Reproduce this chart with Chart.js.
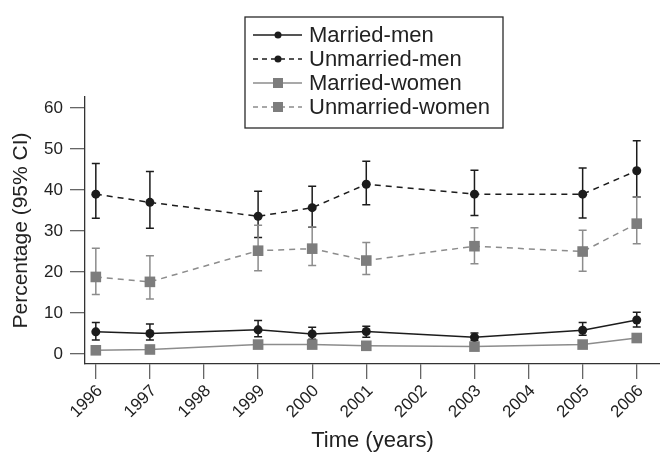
<!DOCTYPE html>
<html>
<head>
<meta charset="utf-8">
<script src="https://cdn.jsdelivr.net/npm/chart.js@4/dist/chart.umd.min.js"></script>
<style>
  html, body { margin: 0; padding: 0; background: #fff; }
  #wrap { width: 660px; height: 454px; }
</style>
</head>
<body>
<div id="wrap"><canvas id="c" width="660" height="454"></canvas></div>
<script>
// Survey years and x-axis tick labels
const years = [1996, 1997, 1999, 2000, 2001, 2003, 2005, 2006];
const yearTicks = [1996, 1997, 1998, 1999, 2000, 2001, 2002, 2003, 2004, 2005, 2006];
const percentTicks = [0, 10, 20, 30, 40, 50, 60];

// Percentages with 95% confidence limits
const marriedMen      = [5.4, 5.0, 5.9, 4.9, 5.5, 4.1, 5.8, 8.3];
const marriedMenLow   = [3.4, 3.4, 4.2, 3.6, 4.1, 3.3, 4.6, 6.6];
const marriedMenHigh  = [7.7, 7.3, 8.2, 6.5, 6.8, 5.1, 7.7, 10.2];

const unmarriedMen     = [39.0, 37.0, 33.6, 35.7, 41.4, 39.0, 39.0, 44.7];
const unmarriedMenLow  = [33.1, 30.7, 28.4, 30.9, 36.4, 33.8, 33.2, 38.3];
const unmarriedMenHigh = [46.5, 44.5, 39.7, 40.9, 47.0, 44.8, 45.4, 52.0];

const marriedWomen = [0.9, 1.1, 2.3, 2.3, 2.0, 1.8, 2.3, 3.9];

const unmarriedWomen     = [18.8, 17.6, 25.2, 25.7, 22.8, 26.3, 25.0, 31.8];
const unmarriedWomenLow  = [14.5, 13.4, 20.3, 21.6, 19.4, 22.0, 20.2, 26.9];
const unmarriedWomenHigh = [25.8, 24.0, 31.4, 31.0, 27.2, 30.8, 30.2, 38.3];

const seriesLabels = ['Married-men', 'Unmarried-men', 'Married-women', 'Unmarried-women'];

const FONT = '"Liberation Sans", Arial, Helvetica, sans-serif';
const BLACK = '#1c1c1c';
const GREY_LINE = '#8c8c8c';
const GREY_FILL = '#7d7d7d';

const toPoints = vals => vals.map((v, i) => ({ x: years[i], y: v }));

// Vertical confidence-interval whiskers with caps, drawn beneath the markers
const errorBars = {
  id: 'errorBars',
  beforeDatasetsDraw(chart) {
    const { ctx, scales: { x, y } } = chart;
    chart.data.datasets.forEach(ds => {
      if (!ds.ciLow) return;
      ctx.save();
      ctx.strokeStyle = ds.ciColor;
      ctx.lineWidth = 1.5;
      ctx.setLineDash([]);
      ds.data.forEach((p, j) => {
        const px = x.getPixelForValue(p.x);
        const lo = y.getPixelForValue(ds.ciLow[j]);
        const hi = y.getPixelForValue(ds.ciHigh[j]);
        ctx.beginPath();
        ctx.moveTo(px, lo); ctx.lineTo(px, hi);
        ctx.moveTo(px - 4, lo); ctx.lineTo(px + 4, lo);
        ctx.moveTo(px - 4, hi); ctx.lineTo(px + 4, hi);
        ctx.stroke();
      });
      ctx.restore();
    });
  }
};

// Boxed legend with line + marker samples
const boxLegend = {
  id: 'boxLegend',
  afterDraw(chart) {
    const { ctx } = chart;
    const bx = 245, by = 17, bw = 258, bh = 111;
    ctx.save();
    ctx.fillStyle = '#fff';
    ctx.fillRect(bx, by, bw, bh);
    ctx.strokeStyle = '#2a2a2a';
    ctx.lineWidth = 1.3;
    ctx.strokeRect(bx, by, bw, bh);
    ctx.font = '22px ' + FONT;
    ctx.textBaseline = 'middle';
    ctx.textAlign = 'left';
    chart.data.datasets.forEach((ds, i) => {
      const cy = 35 + i * 24;
      ctx.strokeStyle = ds.borderColor;
      ctx.lineWidth = 1.5;
      ctx.setLineDash(ds.borderDash && ds.borderDash.length ? [5, 4] : []);
      ctx.beginPath();
      ctx.moveTo(253, cy); ctx.lineTo(302, cy);
      ctx.stroke();
      ctx.setLineDash([]);
      ctx.fillStyle = ds.pointBackgroundColor;
      if (ds.pointStyle === 'rect') {
        ctx.fillRect(278 - 5, cy - 5, 10, 10);
      } else {
        ctx.beginPath();
        ctx.arc(278, cy, 3.5, 0, Math.PI * 2);
        ctx.fill();
      }
      ctx.fillStyle = '#222';
      ctx.fillText(ds.label, 309, cy + 1);
    });
    ctx.restore();
  }
};

const tickFont = { family: FONT, size: 17 };
const titleFont = { family: FONT, size: 21 };

new Chart(document.getElementById('c'), {
  type: 'line',
  data: {
    datasets: [
      {
        label: seriesLabels[0],
        data: toPoints(marriedMen),
        ciLow: marriedMenLow, ciHigh: marriedMenHigh, ciColor: BLACK,
        borderColor: BLACK, borderWidth: 1.5, borderDash: [],
        pointStyle: 'circle', pointRadius: 4.5, pointBackgroundColor: BLACK, pointBorderWidth: 0
      },
      {
        label: seriesLabels[1],
        data: toPoints(unmarriedMen),
        ciLow: unmarriedMenLow, ciHigh: unmarriedMenHigh, ciColor: BLACK,
        borderColor: BLACK, borderWidth: 1.5, borderDash: [6, 5],
        pointStyle: 'circle', pointRadius: 4.5, pointBackgroundColor: BLACK, pointBorderWidth: 0
      },
      {
        label: seriesLabels[2],
        data: toPoints(marriedWomen),
        borderColor: GREY_LINE, borderWidth: 1.5, borderDash: [],
        pointStyle: 'rect', pointRadius: 7.5, pointBackgroundColor: GREY_FILL, pointBorderWidth: 0
      },
      {
        label: seriesLabels[3],
        data: toPoints(unmarriedWomen),
        ciLow: unmarriedWomenLow, ciHigh: unmarriedWomenHigh, ciColor: GREY_LINE,
        borderColor: GREY_LINE, borderWidth: 1.5, borderDash: [6, 5],
        pointStyle: 'rect', pointRadius: 7.5, pointBackgroundColor: GREY_FILL, pointBorderWidth: 0
      }
    ]
  },
  options: {
    responsive: false,
    animation: false,
    devicePixelRatio: 1,
    layout: { autoPadding: false, padding: { top: 97, left: 0, right: 0, bottom: 0 } },
    plugins: { legend: { display: false }, tooltip: { enabled: false } },
    elements: { line: { tension: 0 } },
    scales: {
      x: {
        type: 'linear',
        min: 1995.8,
        max: 2006.43,
        afterBuildTicks: s => { s.ticks = yearTicks.map(v => ({ value: v })); },
        afterFit: s => { s.height = 90; s.paddingLeft = 0; s.paddingRight = 0; },
        ticks: {
          autoSkip: false, minRotation: 45, maxRotation: 45,
          font: tickFont, color: '#222', padding: 2, labelOffset: 4,
          callback: v => String(v)
        },
        grid: { drawOnChartArea: false, drawTicks: true, tickLength: 15, color: '#666', lineWidth: 1.3 },
        border: { display: true, color: '#333', width: 1.3 },
        title: { display: true, text: 'Time (years)', font: { family: FONT, size: 22 }, color: '#222', padding: 0 }
      },
      y: {
        min: -2.44,
        max: 62.7,
        afterBuildTicks: s => { s.ticks = percentTicks.map(v => ({ value: v })); },
        afterFit: s => { s.width = 85; s.paddingTop = 0; s.paddingBottom = 0; },
        ticks: { font: tickFont, color: '#222', padding: 7, callback: v => String(v) },
        grid: { drawOnChartArea: false, drawTicks: true, tickLength: 15, color: '#666', lineWidth: 1.3 },
        border: { display: true, color: '#333', width: 1.3 },
        title: { display: true, text: 'Percentage (95% CI)', font: titleFont, color: '#222', padding: { top: 9, bottom: 0 } }
      }
    }
  },
  plugins: [errorBars, boxLegend]
});
</script>
</body>
</html>
